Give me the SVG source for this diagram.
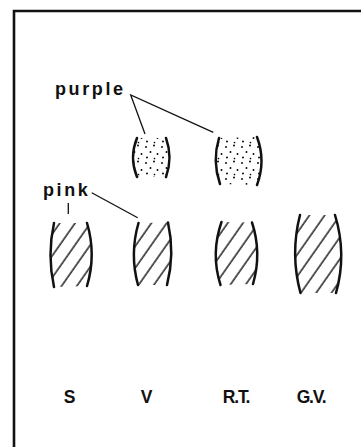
<svg xmlns="http://www.w3.org/2000/svg" width="361" height="447" viewBox="0 0 361 447">
  <style>
    .frame { fill: none; stroke: #111; stroke-width: 2.6; }
    .edge { fill: none; stroke: #111; stroke-width: 2.5; stroke-linecap: round; }
    .lead { fill: none; stroke: #111; stroke-width: 1.3; }
    .hatched { fill: url(#hatch); stroke: none; }
    .dotted { fill: url(#stipple); stroke: none; }
    .name { font-family: "Liberation Sans", Arial, sans-serif; font-weight: bold; font-size: 18px; letter-spacing: 2.6px; fill: #111; }
    .lane { font-family: "Liberation Sans", Arial, sans-serif; font-weight: bold; font-size: 17.5px; letter-spacing: -1.2px; fill: #111; text-anchor: middle; }
  </style>
  <defs>
    <!-- diagonal hatching for the pink bands -->
    <pattern id="hatch" width="12.5" height="12.5" patternUnits="userSpaceOnUse" patternTransform="rotate(35)">
      <line x1="2" y1="0" x2="2" y2="12.5" stroke="#000" stroke-width="1.3"/>
    </pattern>
    <!-- irregular stipple for the purple bands -->
    <pattern id="stipple" width="16" height="16" patternUnits="userSpaceOnUse">
      <circle cx="2" cy="3" r="0.95" fill="#000"/>
      <circle cx="10" cy="1.5" r="0.95" fill="#000"/>
      <circle cx="6.5" cy="8" r="0.95" fill="#000"/>
      <circle cx="13.5" cy="10" r="0.95" fill="#000"/>
      <circle cx="3" cy="13.5" r="0.95" fill="#000"/>
      <circle cx="10.5" cy="14.5" r="0.85" fill="#000"/>
    </pattern>
  </defs>

  <!-- border -->
  <g id="frame">
    <path class="frame" d="M14 447 V11 H361"/>
  </g>

  <!-- labels -->
  <g id="label-purple">
    <text class="name" x="55" y="95">purple</text>
  </g>
  <g id="label-pink">
    <text class="name" x="43" y="196">pink</text>
  </g>

  <!-- purple bands -->
  <g id="purple-V">
    <path class="dotted" d="M137 138 Q129 157.5 137 177 L166 177 Q173 157.5 166 138 Z"/>
    <path class="edge" d="M137 138 Q129 157.5 137 177"/>
    <path class="edge" d="M166 138 Q173 157.5 166 177"/>
  </g>
  <g id="purple-RT">
    <path class="dotted" d="M219 138 Q212 161 220 184 L257 185 Q266 161 257 137 Z"/>
    <path class="edge" d="M219 138 Q212 161 220 184"/>
    <path class="edge" d="M257 137 Q266 161 257 185"/>
  </g>

  <!-- pink bands -->
  <g id="pink-S">
    <path class="hatched" d="M54 223 Q47 255 54 287 L87 286 Q96.4 254.5 87 223 Z"/>
    <path class="edge" d="M54 223 Q47 255 54 287"/>
    <path class="edge" d="M87 223 Q96.4 254.5 87 286"/>
  </g>
  <g id="pink-V">
    <path class="hatched" d="M138.5 223 Q129.5 254 138 285 L167 285 Q175 253.7 168 222.5 Z"/>
    <path class="edge" d="M138.5 223 Q129.5 254 138 285"/>
    <path class="edge" d="M168 222.5 Q175 253.7 167 285"/>
  </g>
  <g id="pink-RT">
    <path class="hatched" d="M221.5 222 Q210.5 253.5 220.5 285 L253 284 Q262 253 252 222.5 Z"/>
    <path class="edge" d="M221.5 222 Q210.5 253.5 220.5 285"/>
    <path class="edge" d="M252 222.5 Q262 253 253 284"/>
  </g>
  <g id="pink-GV">
    <path class="hatched" d="M300 215 Q290 254 300.5 293 L336 293 Q347 254 335 215 Z"/>
    <path class="edge" d="M300 215 Q290 254 300.5 293"/>
    <path class="edge" d="M335 215 Q347 254 336 293"/>
  </g>

  <!-- leader lines -->
  <g id="connectors">
    <path class="lead" d="M145 134 L130.7 95 L213.3 132.3"/>
    <path class="lead" d="M68.3 203 V214"/>
    <path class="lead" d="M91.7 192.7 L137.7 217.7"/>
  </g>

  <!-- lane captions -->
  <g id="lanes">
    <text class="lane" x="69" y="403">S</text>
    <text class="lane" x="146" y="403">V</text>
    <text class="lane" x="236" y="403">R.T.</text>
    <text class="lane" x="311" y="403">G.V.</text>
  </g>
</svg>
